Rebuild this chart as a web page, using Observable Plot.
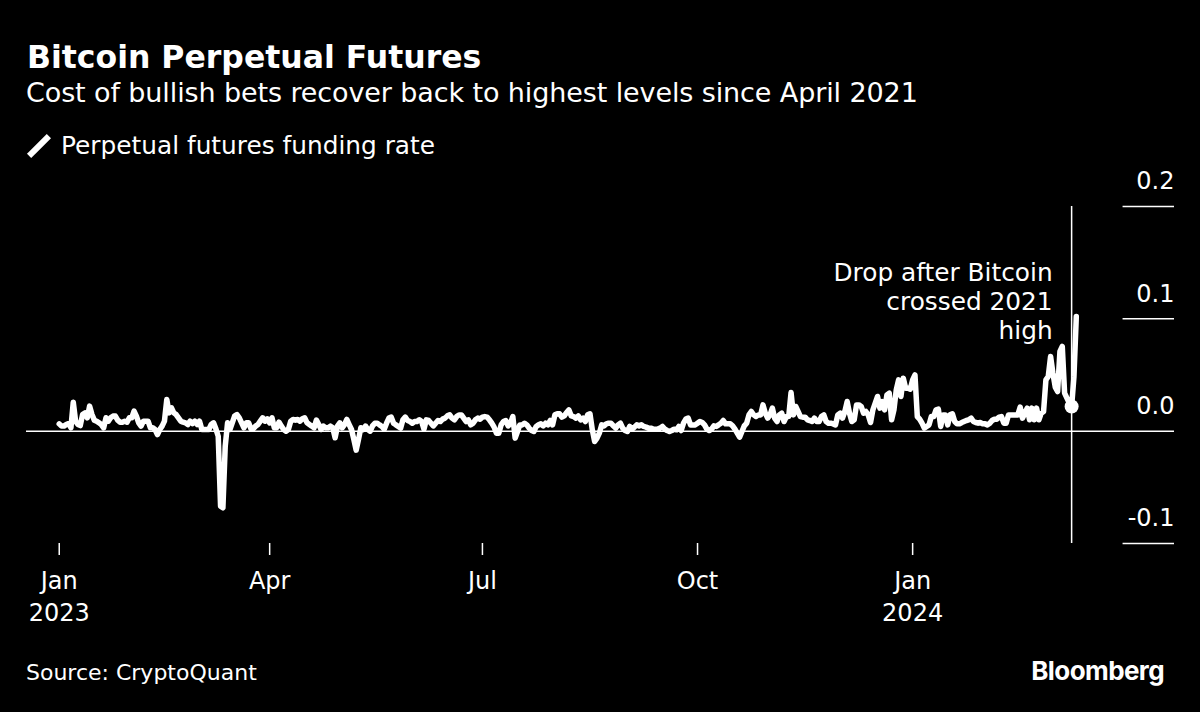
<!DOCTYPE html>
<html>
<head>
<meta charset="utf-8">
<script src="https://cdn.jsdelivr.net/npm/d3@7"></script>
<script src="https://cdn.jsdelivr.net/npm/@observablehq/plot@0.6"></script>
<style>
html,body{margin:0;padding:0;background:#000;color:#fff;width:1200px;height:712px;overflow:hidden;font-family:"DejaVu Sans",sans-serif}
#wrap{position:relative;width:1200px;height:712px}
#head{height:160px;position:relative;z-index:2}
#title{position:absolute;left:27px;top:37px;font-size:31.5px;font-weight:700;line-height:40px;white-space:nowrap}
#sub{position:absolute;left:26px;top:76px;font-size:27px;line-height:34px;white-space:nowrap;letter-spacing:-0.11px}
#legend{position:absolute;left:61px;top:130px;font-size:24.8px;line-height:32px;white-space:nowrap}
#swatch{position:absolute;left:25px;top:143px;width:28px;height:6px;background:#fff;transform:rotate(-45deg)}
#chart svg{display:block;position:absolute;left:0;top:160px}
#source{position:absolute;left:26px;top:656px;font-size:22px;line-height:34px;white-space:nowrap}
#logo{position:absolute;right:36px;top:654px;font-family:"Inter","Liberation Sans",sans-serif;font-weight:700;font-size:26px;line-height:34px;letter-spacing:-0.6px}
</style>
</head>
<body>
<div id="wrap">
<div id="head">
<div id="title">Bitcoin Perpetual Futures</div>
<div id="sub">Cost of bullish bets recover back to highest levels since April 2021</div>
<div id="swatch"></div>
<div id="legend">Perpetual futures funding rate</div>
</div>
<div id="chart"></div>
<div id="source">Source: CryptoQuant</div>
<div id="logo">Bloomberg</div>
</div>
<script>
const startDate = "2023-01-01";
// daily funding rate, in thousandths
const fundingThousandths = [
6.5,4.5,4.5,5.9,6.8,3,25.8,8.9,5.9,5,
14.8,16.3,11.9,22.3,14.8,9.8,8.9,7.4,5.9,3,
11.9,8.9,11.9,13.4,13.4,9.8,8,8,8.9,8,
11.9,11.9,17.8,13.4,7.4,4.5,8.9,8.9,8.9,3,
3,1.5,-3,1.5,4.5,8.9,28.2,16.3,20.8,16.3,
14.8,11.9,8.9,8,7.4,5.9,8.9,6.8,8.9,5.9,
8.9,1.5,1.5,1.5,1.5,5.9,7.4,2.1,-4.5,-66.8,
-68.2,-13.4,7.4,1.5,7.4,13.4,14.8,11.9,7.4,3,
7.4,7.4,2.1,2.1,4.5,5.9,8.9,11.9,8.9,11,
7.4,11.9,3,3,8,4.5,1.5,0,1.5,8.9,
10.4,9.8,10.4,8.9,11,11.9,7.4,5.9,4.5,3,
9.8,5.9,1.5,4.5,3,3,4.5,3,-5.9,4.5,
7.4,3,5.9,10.4,5.9,1.5,-7.4,-16.9,-7.4,3,
1.5,4.5,1.5,0,4.7,7.1,7.1,5.6,4.2,1.8,
7.1,11.6,12.5,7.1,5.6,4.2,2.7,10.1,12.5,9.5,
8.6,7.1,8.6,8.6,10.1,8.6,1.8,10.1,9.5,7.1,
4.7,7.1,9.5,8.6,10.7,11.6,13.6,14.5,11.6,10.1,
13,14.5,14.5,11.6,8.6,10.1,5.6,7.1,10.1,11.6,
10.7,12.5,13,12.5,10.1,7.1,3.6,-1.8,-1.8,5.6,
8.6,9.5,4.7,7.1,13,-6.2,-0.3,5.6,5.6,7.1,
5.6,2.7,0.6,-0.3,4.2,5.6,6.5,4.7,7.1,5.6,
9.5,5.6,14.5,15.4,15.4,12.5,13.6,16.6,18.9,13.6,
13,11.6,13.6,10.1,11.6,8.6,14.5,15.4,1.2,-9.2,
-6.2,-1.8,5.6,4.7,6.5,7.1,7.1,4.7,2.7,5.6,
7.1,2.7,0.6,-0.3,4.2,1.8,3.6,5.6,4.7,5.6,
4.2,3.6,2.7,2.7,1.8,1.8,1.8,2.7,4.2,1.8,
0.6,-0.3,0.6,1.8,1.2,4.2,0.6,7.1,10.7,11.6,
5.6,5.6,5.6,7.1,8.6,7.7,5.6,1.8,0.6,1.8,
4.7,4.2,5.6,7.1,9.5,6.5,6.5,6.5,4.7,1.8,
-1.8,-5.3,-0.3,4.7,7.1,14.5,17.5,14.5,13,14.5,
14.5,23.4,16,11.6,14.5,20.5,11.6,8.6,14.5,16,
8.6,13,13,34.4,14.5,22,17.5,13,12.5,12.5,
10.1,9.5,8.6,11.6,8.6,8.6,13,14.5,8.6,7.1,
7.1,6.5,5.6,14.5,16,11.6,17.5,26.4,16,8.6,
10.1,23.4,23.4,22,16,17.5,14.5,7.7,19,24.9,
30.9,20.5,26.4,19,32.3,33.8,10.1,19,36.8,45.7,
30.9,47.2,38.3,38.3,37.4,45.7,50.1,13,10.7,7.1,
2.7,4.2,5.6,13,13,19,19.6,4.2,14.5,14.5,
5.6,14.5,15.4,8.6,6.5,6.5,7.7,8.6,9.5,10.1,
11.6,8.6,7.7,7.1,7.7,6.5,6.5,5.6,7.1,9.5,
10.7,10.7,12.5,13,7.1,7.1,14.5,14.5,14.5,14.5,
14.5,21.4,11.6,16,20.5,10.1,20.5,10.1,20.5,10.1,
16,17.5,45.7,48.7,66.5,51.6,39.2,35.3,70.9,75.4,
33.8,29.4,24.9,22,48.7,102
];
const xTickDates = ["2023-01-01","2023-04-01","2023-07-01","2023-10-01","2024-01-01"];
const xTickLabels = ["Jan\n2023","Apr","Jul","Oct","Jan\n2024"];
const yTicks = [-0.1,0,0.1,0.2];
const xDomain = ["2022-12-18","2024-04-22"];
const tickLineStart = "2024-03-31";
const markerDate = "2024-03-09";
const markerValue = 0.022;
const annotationText = "Drop after Bitcoin\ncrossed 2021\nhigh";
const annotationY = 0.1157;

const day0 = new Date(startDate);
const series = fundingThousandths.map((v,i)=>({date:d3.utcDay.offset(day0,i),value:v/1000}));
const xTickD = xTickDates.map(d=>new Date(d));
const font = '"DejaVu Sans",sans-serif';

const plot = Plot.plot({
  width:1200,height:490,
  marginLeft:26,marginRight:26,marginTop:46,marginBottom:107,
  style:{background:"none",color:"#fff",fontFamily:font,fontSize:"24px"},
  x:{type:"utc",domain:xDomain.map(d=>new Date(d))},
  y:{domain:[-0.1,0.2]},
  marks:[
    Plot.axisX({ticks:xTickD,tickSize:12,tickPadding:11,stroke:"#fff",strokeWidth:1.5,fill:"#fff",fontSize:24,lineHeight:1.33,
      tickFormat:d=>xTickLabels[xTickD.findIndex(t=>+t===+d)],textOverflow:null,label:null}),
    Plot.axisY({anchor:"right",ticks:yTicks,tickSize:0,tickPadding:0,textAnchor:"end",dy:-25,fill:"#fff",fontSize:24,
      tickFormat:d=>d.toFixed(1),label:null}),
    Plot.ruleY(yTicks.filter(d=>d!==0),{x1:new Date(tickLineStart),x2:new Date(xDomain[1]),stroke:"#fff",strokeWidth:1.5}),
    Plot.ruleY([0],{stroke:"#fff",strokeWidth:1.5}),
    Plot.ruleX([new Date(markerDate)],{stroke:"#fff",strokeWidth:1.5}),
    Plot.line(series,{x:"date",y:"value",stroke:"#fff",strokeWidth:5.5,strokeLinejoin:"round",strokeLinecap:"round"}),
    Plot.dot([{date:new Date(markerDate),value:markerValue}],{x:"date",y:"value",r:7,fill:"#fff",stroke:"none"}),
    Plot.text([annotationText],{x:new Date(markerDate),y:annotationY,dx:-19,textAnchor:"end",fill:"#fff",fontSize:24.8,lineHeight:1.17})
  ]
});
document.getElementById("chart").appendChild(plot);
</script>
</body>
</html>
